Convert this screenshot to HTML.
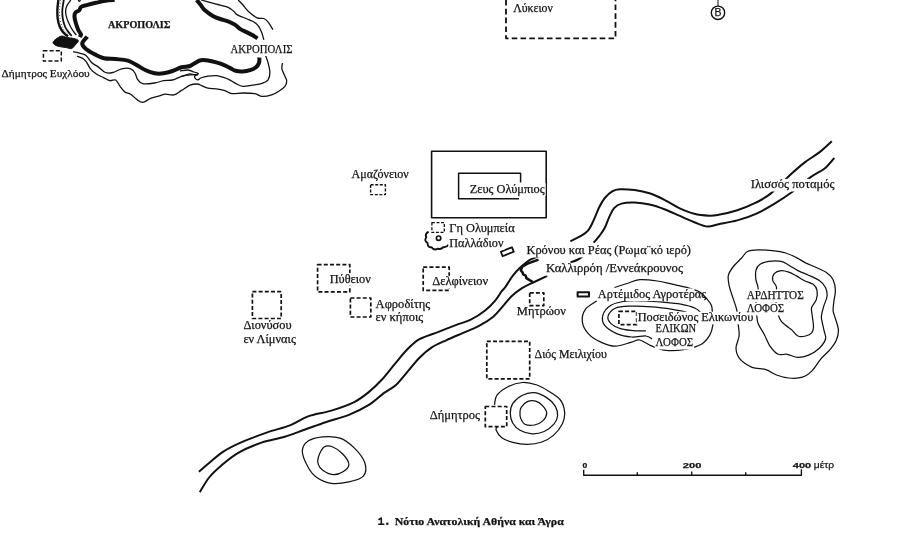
<!DOCTYPE html>
<html><head><meta charset="utf-8"><title>Map</title>
<style>
html,body{margin:0;padding:0;background:#fff;}
body{width:916px;height:536px;overflow:hidden;font-family:"Liberation Serif",serif;}
svg{display:block;position:absolute;left:0;top:0;}
text{fill:#151515;stroke:#151515;stroke-width:0.25px;}
path,rect,circle{stroke-linecap:butt;stroke-linejoin:round;}
</style></head>
<body>
<svg width="916" height="536" viewBox="0 0 916 536">
<rect x="0" y="0" width="916" height="536" fill="#fff" stroke="none"/>
<path d="M114.6 0.0C113.0 0.1 108.4 0.3 105.3 0.8C102.2 1.3 99.0 2.1 95.9 2.8C92.8 3.5 89.1 4.4 86.6 5.1C84.1 5.8 82.2 6.1 81.0 7.0C79.8 7.9 80.1 9.4 79.2 10.3C78.3 11.2 76.2 11.5 75.4 12.6C74.6 13.7 74.4 15.0 74.5 16.8C74.6 18.6 75.3 21.1 75.9 23.3C76.5 25.5 77.4 27.9 78.2 29.8C79.0 31.7 80.8 33.3 81.0 34.5C81.2 35.7 79.8 36.6 79.6 37.0" fill="none" stroke="#111" stroke-width="4.0" />
<path d="M87.2 36.6C86.4 37.8 82.4 41.5 82.2 43.6C82.0 45.7 83.9 47.2 86.0 49.0C88.1 50.8 91.9 52.9 94.9 54.4C97.9 55.9 100.4 57.4 103.9 58.2C107.4 59.0 111.8 58.7 115.8 59.1C119.8 59.5 124.3 59.6 127.8 60.6C131.3 61.6 133.7 63.5 136.7 65.1C139.7 66.7 142.7 68.9 145.7 70.3C148.7 71.7 151.6 72.8 154.6 73.3C157.6 73.8 160.6 73.7 163.6 73.3C166.6 72.9 169.5 72.0 172.5 71.0C175.5 70.0 178.6 68.1 181.5 67.3C184.4 66.5 187.6 66.8 190.0 66.0C192.4 65.2 194.2 63.4 196.0 62.4C197.8 61.4 198.8 60.5 200.8 60.2C202.8 59.9 205.4 60.0 208.0 60.4C210.6 60.8 213.6 61.6 216.4 62.4C219.2 63.2 222.4 64.4 224.8 65.4C227.2 66.4 229.0 67.5 230.8 68.4C232.6 69.3 233.6 70.3 235.6 70.8C237.6 71.3 240.4 71.5 242.8 71.4C245.2 71.3 247.8 70.9 250.0 70.2C252.2 69.5 254.5 68.4 256.0 67.2C257.5 66.0 258.4 64.6 259.0 63.0C259.6 61.4 259.3 58.4 259.4 57.5" fill="none" stroke="#111" stroke-width="4.0" />
<path d="M196.7 0.0C197.4 0.9 199.9 3.9 201.2 5.6C202.5 7.3 202.7 8.4 204.6 10.1C206.5 11.8 209.8 14.2 212.4 15.7C215.0 17.2 217.6 18.1 220.2 19.0C222.8 19.9 225.7 20.4 228.1 21.3C230.5 22.2 232.8 23.3 234.8 24.6C236.9 25.9 238.5 27.9 240.4 29.1C242.3 30.3 243.9 30.9 246.0 31.9C248.1 32.9 250.8 34.2 252.7 35.3C254.6 36.4 256.7 37.9 257.5 38.4" fill="none" stroke="#111" stroke-width="4.0" />
<path d="M53.0 42.4C53.1 41.4 54.5 40.2 55.9 39.2C57.3 38.2 59.5 36.4 61.4 36.1C63.2 35.8 65.1 37.1 67.0 37.5C68.9 37.9 70.9 37.9 72.6 38.2C74.3 38.6 76.4 39.1 77.3 39.6C78.2 40.1 78.5 40.6 78.2 41.5C77.9 42.4 76.5 43.6 75.4 44.8C74.3 46.0 73.2 48.0 71.7 48.5C70.2 49.0 68.1 47.9 66.1 47.6C64.1 47.3 61.4 47.0 59.6 46.6C57.8 46.2 56.5 45.9 55.4 45.2C54.3 44.5 52.9 43.4 53.0 42.4Z" fill="#111" stroke="#111" stroke-width="1" />
<path d="M58.4 0.0C58.2 1.6 57.5 6.2 57.4 9.3C57.3 12.4 57.3 15.7 57.7 18.6C58.1 21.6 58.9 24.7 59.9 27.0C60.9 29.3 62.1 31.0 63.5 32.6C64.8 34.2 67.2 35.8 68.0 36.4" fill="none" stroke="#111" stroke-width="2.4" />
<path d="M63.8 0.0C63.6 1.6 62.6 6.2 62.4 9.3C62.2 12.4 62.3 15.7 62.8 18.6C63.3 21.6 64.2 24.7 65.2 27.0C66.2 29.3 67.8 31.1 68.9 32.6C70.0 34.1 71.2 35.4 71.7 35.9" fill="none" stroke="#111" stroke-width="1.8" />
<path d="M70.8 0.0C70.2 0.9 67.9 3.6 67.0 5.6C66.1 7.6 65.6 9.9 65.6 12.1C65.6 14.3 66.3 16.4 67.0 18.6C67.7 20.8 68.7 23.0 69.8 25.2C70.9 27.4 72.5 30.1 73.6 31.7C74.7 33.3 75.9 34.5 76.4 35.0" fill="none" stroke="#111" stroke-width="1.3" />
<path d="M78.2 0.0C78.4 0.2 78.8 1.4 79.2 1.4C79.6 1.4 80.4 0.2 80.6 0.0" fill="none" stroke="#111" stroke-width="1.2" />
<path d="M60.7 0.0C60.5 1.6 59.7 6.2 59.6 9.3C59.5 12.4 59.5 15.7 60.0 18.6C60.5 21.6 61.4 24.7 62.4 27.0C63.4 29.3 64.9 31.1 66.1 32.6C67.3 34.1 68.9 35.4 69.5 36.0" fill="none" stroke="#333" stroke-width="1" stroke-dasharray="0.8 2.2"/>
<path d="M73.1 51.6C74.2 51.9 77.4 52.6 79.6 53.2C81.8 53.8 84.0 53.8 86.0 55.4C88.0 57.0 89.9 60.9 91.9 62.8C93.9 64.7 95.7 65.0 97.9 66.6C100.2 68.2 102.9 71.5 105.4 72.5C107.9 73.5 110.1 73.1 112.8 72.5C115.5 71.9 118.8 69.4 121.8 68.8C124.8 68.2 128.5 68.0 130.7 68.8C132.9 69.5 134.1 71.5 135.2 73.3C136.3 75.0 136.2 77.6 137.5 79.3C138.8 81.0 139.8 83.1 142.7 83.7C145.5 84.3 151.1 83.5 154.6 83.0C158.1 82.5 160.6 81.2 163.6 80.7C166.6 80.2 169.5 80.7 172.5 80.0C175.5 79.3 178.5 77.2 181.5 76.3C184.5 75.4 187.7 75.0 190.4 74.8C193.1 74.5 196.7 74.8 197.9 74.8" fill="none" stroke="#111" stroke-width="1.3" />
<path d="M77.0 56.1C77.9 56.4 80.7 57.2 82.2 58.1C83.7 59.0 84.6 59.5 86.0 61.3C87.4 63.1 88.7 66.7 90.4 68.8C92.1 70.9 94.2 72.5 96.4 74.0C98.7 75.5 101.7 76.7 103.9 77.8C106.2 78.9 107.9 80.3 109.9 80.7C111.9 81.1 114.1 79.0 115.8 80.0C117.5 81.0 118.8 84.7 120.3 86.7C121.8 88.7 123.1 90.7 124.8 91.9C126.5 93.2 128.7 93.0 130.7 94.2C132.7 95.5 134.7 98.0 136.7 99.4C138.7 100.8 140.5 102.5 142.7 102.4C144.9 102.3 147.6 99.7 150.1 98.7C152.6 97.7 155.1 97.2 157.6 96.4C160.1 95.7 162.4 94.5 165.1 94.2C167.8 94.0 171.3 95.5 174.0 94.9C176.7 94.3 178.8 92.0 181.5 90.4C184.2 88.8 187.4 86.3 190.0 85.2C192.6 84.1 195.2 83.9 197.2 84.0C199.2 84.1 200.2 85.1 202.0 85.8C203.8 86.5 205.6 87.7 208.0 88.2C210.4 88.7 213.6 88.4 216.4 88.8C219.2 89.2 222.2 89.8 224.8 90.6C227.4 91.4 229.0 93.2 232.0 93.6C235.0 94.0 239.0 93.0 242.8 93.0C246.6 93.0 251.6 93.0 254.8 93.6C258.0 94.2 259.3 96.2 262.1 96.4C264.9 96.6 268.9 95.7 271.7 94.8C274.5 93.9 276.7 92.6 278.9 91.2C281.1 89.8 283.6 88.1 284.9 86.4C286.2 84.7 286.7 82.7 286.7 81.0C286.7 79.3 285.7 78.2 284.9 76.2C284.1 74.2 282.3 71.2 281.9 69.0C281.5 66.8 282.4 64.0 282.5 63.0" fill="none" stroke="#111" stroke-width="1.3" />
<path d="M180.0 70.8C181.4 70.7 185.9 69.8 188.2 70.0C190.5 70.2 192.3 71.4 194.0 72.0C195.7 72.6 198.3 72.8 198.4 73.5C198.5 74.2 195.3 75.2 194.8 76.0C194.3 76.8 194.9 78.0 195.4 78.6C195.9 79.2 197.1 79.9 198.0 79.8C198.9 79.7 199.1 78.6 200.8 78.0C202.5 77.4 205.4 76.6 208.0 76.2C210.6 75.8 213.8 75.4 216.4 75.6C219.0 75.8 221.4 76.7 223.6 77.4C225.8 78.1 227.6 78.8 229.6 79.8C231.6 80.8 233.4 82.3 235.6 83.4C237.8 84.5 240.0 86.1 242.8 86.4C245.6 86.7 249.2 85.7 252.4 85.2C255.6 84.7 259.5 84.3 262.1 83.4C264.7 82.5 266.8 81.6 268.1 79.8C269.4 78.0 269.9 75.4 269.9 72.6C269.9 69.8 268.8 65.8 268.1 63.0C267.4 60.2 266.1 57.0 265.7 55.8" fill="none" stroke="#111" stroke-width="1.3" />
<path d="M181.5 76.3C182.2 76.1 184.6 75.4 186.0 75.0C187.4 74.6 188.5 73.8 190.0 73.8C191.5 73.8 194.0 74.8 194.8 75.0" fill="none" stroke="#111" stroke-width="1.3" />
<path d="M201.2 0.0C202.5 0.4 206.2 1.5 209.0 2.2C211.8 3.0 214.8 3.6 218.0 4.5C221.2 5.3 225.5 6.2 228.1 7.3C230.7 8.4 232.2 10.0 233.7 11.2C235.2 12.4 234.9 13.4 237.0 14.6C239.1 15.8 243.4 17.4 246.0 18.5C248.6 19.6 250.6 20.1 252.7 21.3C254.8 22.5 256.8 23.9 258.3 25.8C259.8 27.7 260.8 30.2 261.7 32.5C262.6 34.8 263.5 38.6 263.9 39.8" fill="none" stroke="#111" stroke-width="1.3" />
<path d="M238.2 0.0C238.9 0.8 240.9 2.6 242.6 4.5C244.3 6.4 245.8 9.0 248.2 11.2C250.6 13.4 254.6 16.7 257.2 17.9C259.8 19.1 262.0 17.8 263.9 18.5C265.8 19.2 266.9 20.5 268.4 22.4C269.9 24.3 272.1 28.5 272.9 29.7" fill="none" stroke="#111" stroke-width="1.3" />
<rect x="43.4" y="50.7" width="17.9" height="10.4" fill="none" stroke="#111" stroke-width="1.5" stroke-dasharray="4 2.2"/>
<path d="M506 0V38.3H615.5V0" fill="none" stroke="#111" stroke-width="1.8" stroke-dasharray="5.6 3.2"/>
<circle cx="718" cy="12.8" r="6.7" fill="#fff" stroke="#111" stroke-width="1.4"/>
<path d="M718 0V6" stroke="#111" stroke-width="1"/>
<rect x="431.6" y="151.2" width="114.6" height="66.5" fill="none" stroke="#111" stroke-width="1.6"/>
<path d="M520.6 182.4V173.2H458.6V198.8H519" fill="none" stroke="#111" stroke-width="1.5"/>
<rect x="370.6" y="184.8" width="14.8" height="9.8" fill="none" stroke="#111" stroke-width="1.4" stroke-dasharray="3 1.6"/>
<rect x="431.9" y="222.6" width="12.4" height="9.8" fill="none" stroke="#111" stroke-width="1.3" stroke-dasharray="3 1.6"/>
<path d="M428.6 231.6 Q424.5 234 426.3 237.5 Q423.8 240.5 427.5 243 Q427.5 247.5 431.5 247.2 Q434 250.8 437.8 248.6 Q441 250 443.2 247.2 Q446.5 247.5 448.8 244.6" fill="none" stroke="#111" stroke-width="1.9"/>
<circle cx="438.6" cy="238.2" r="2.2" fill="none" stroke="#111" stroke-width="1.7"/>
<rect x="-6" y="-2.4" width="12" height="4.8" fill="#fff" stroke="#111" stroke-width="1.8" transform="translate(507.3 251.7) rotate(-22)"/>
<rect x="577.6" y="292.2" width="11.4" height="4.4" fill="#fff" stroke="#111" stroke-width="2"/>
<rect x="317.6" y="264.6" width="32.2" height="27.2" fill="none" stroke="#111" stroke-width="1.7" stroke-dasharray="4 2.2"/>
<rect x="252.4" y="291.7" width="28.8" height="26.8" fill="none" stroke="#111" stroke-width="1.7" stroke-dasharray="4 2.2"/>
<rect x="350.4" y="298.0" width="20.4" height="19.0" fill="none" stroke="#111" stroke-width="1.7" stroke-dasharray="4 2.2"/>
<rect x="423.2" y="267.2" width="26.0" height="23.2" fill="none" stroke="#111" stroke-width="1.7" stroke-dasharray="4 2.2"/>
<rect x="529.7" y="292.8" width="14.1" height="12.8" fill="none" stroke="#111" stroke-width="1.7" stroke-dasharray="4 2.2"/>
<rect x="486.8" y="341.3" width="42.9" height="37.6" fill="none" stroke="#111" stroke-width="1.7" stroke-dasharray="4 2.2"/>
<rect x="485.3" y="406.5" width="21.4" height="20.2" fill="none" stroke="#111" stroke-width="1.7" stroke-dasharray="4 2.2"/>
<rect x="618.9" y="311.3" width="17.8" height="13.4" fill="none" stroke="#111" stroke-width="1.7" stroke-dasharray="4 2.2"/>
<path d="M831.8 141.2C829.7 143.1 823.9 148.8 819.3 152.4C814.7 156.0 809.0 159.0 804.4 162.6C799.8 166.2 797.0 168.7 791.4 173.8C785.8 178.9 776.8 188.6 770.9 193.4C765.0 198.2 761.5 199.9 755.9 202.7C750.3 205.5 743.5 208.2 737.3 210.2C731.1 212.2 723.3 213.9 718.6 214.8C713.9 215.7 713.2 215.9 709.2 215.7C705.2 215.5 699.3 215.1 694.3 213.8C689.3 212.6 684.3 210.5 679.3 208.2C674.3 205.9 669.4 202.3 664.4 199.8C659.4 197.3 654.5 194.9 649.5 193.3C644.5 191.7 639.6 190.8 634.6 190.1C629.6 189.4 623.4 189.0 619.7 189.2C616.0 189.4 614.7 189.9 612.2 191.4C609.7 192.9 607.0 195.3 604.8 198.0C602.6 200.7 601.1 203.6 599.2 207.3C597.3 211.0 595.5 216.5 593.6 220.4C591.7 224.3 590.2 228.0 588.0 230.6C585.8 233.2 583.5 234.4 580.5 236.2C577.5 238.0 572.0 240.4 570.3 241.2" fill="none" stroke="#111" stroke-width="2.0" />
<path d="M540.5 255.6C538.7 256.4 532.9 258.1 529.5 260.1C526.1 262.1 523.0 265.0 520.2 267.6C517.4 270.2 515.2 272.6 512.7 275.9C510.2 279.1 507.2 284.5 505.3 287.1C503.4 289.7 503.1 289.3 501.5 291.5C499.9 293.7 498.1 297.1 495.4 300.3C492.7 303.5 489.2 307.3 485.1 310.5C481.0 313.7 475.6 317.3 470.8 319.7C466.0 322.1 461.9 322.8 456.4 324.9C450.9 327.0 444.0 329.7 437.9 332.1C431.8 334.5 424.6 336.3 419.5 339.2C414.4 342.1 411.3 345.4 407.2 349.5C403.1 353.6 399.2 358.7 394.9 363.8C390.6 368.9 385.8 375.4 381.5 380.0C377.2 384.6 373.8 388.0 369.3 391.6C364.8 395.2 361.0 398.6 354.7 401.8C348.4 405.0 339.2 408.2 331.4 410.6C323.6 413.0 314.9 414.0 308.1 416.4C301.3 418.8 297.4 422.4 290.6 425.1C283.8 427.8 275.1 429.7 267.3 432.4C259.6 435.1 251.4 438.0 244.1 441.1C236.8 444.2 229.5 447.7 223.7 451.3C217.9 454.9 213.2 459.6 209.1 463.0C205.0 466.4 200.6 470.2 198.9 471.7" fill="none" stroke="#111" stroke-width="2.0" />
<path d="M834.3 158.0C832.8 159.7 829.0 164.9 825.0 168.2C821.0 171.5 815.6 173.5 810.0 177.6C804.4 181.7 797.3 188.2 791.4 192.5C785.5 196.8 780.5 200.1 774.6 203.7C768.7 207.3 762.1 211.1 755.9 213.9C749.7 216.7 743.5 218.7 737.3 220.4C731.1 222.1 723.6 223.2 718.6 224.2C713.6 225.2 711.5 226.9 707.5 226.6C703.5 226.3 699.0 224.0 694.3 222.2C689.6 220.4 684.3 217.9 679.3 215.7C674.3 213.5 669.4 211.1 664.4 209.2C659.4 207.3 654.5 205.6 649.5 204.5C644.5 203.4 639.3 202.8 634.6 202.6C629.9 202.4 624.9 202.7 621.5 203.6C618.1 204.5 616.1 206.0 614.1 208.2C612.1 210.4 611.0 213.3 609.4 216.6C607.8 219.9 606.5 224.5 604.8 227.8C603.1 231.1 601.1 233.7 599.2 236.2C597.3 238.7 594.5 241.6 593.6 242.7" fill="none" stroke="#111" stroke-width="2.0" />
<path d="M584.2 255.4C583.2 256.1 580.3 258.3 578.0 259.5C575.7 260.7 571.8 262.0 570.5 262.5" fill="none" stroke="#111" stroke-width="2.0" />
<path d="M547.2 275.9C544.9 277.0 537.4 280.5 533.2 282.5C529.0 284.5 525.6 285.9 522.0 288.1C518.4 290.4 514.9 293.1 511.8 296.0C508.7 298.9 506.7 301.9 503.6 305.4C500.5 308.8 497.4 313.3 493.3 316.7C489.2 320.1 484.1 323.2 479.0 325.9C473.9 328.6 468.1 330.7 462.6 333.1C457.1 335.5 451.3 337.9 446.2 340.3C441.1 342.7 436.2 344.5 431.8 347.4C427.4 350.3 423.6 353.6 419.5 357.7C415.4 361.8 411.1 367.6 407.2 372.1C403.3 376.7 399.9 381.5 396.0 385.0C392.1 388.5 388.2 389.8 383.8 393.1C379.4 396.4 375.1 401.1 369.3 404.7C363.5 408.3 356.2 412.0 348.9 414.9C341.6 417.8 332.9 419.8 325.6 422.2C318.3 424.6 312.0 427.1 305.2 429.5C298.4 431.9 292.1 434.6 284.8 436.8C277.5 439.0 269.3 439.9 261.5 442.6C253.7 445.3 245.0 448.9 238.2 452.8C231.4 456.7 225.7 461.8 220.8 465.9C216.0 470.0 212.6 473.1 209.1 477.5C205.6 481.9 201.4 489.7 199.8 492.1" fill="none" stroke="#111" stroke-width="2.0" />
<path d="M538.5 259.6L527.6 263.6L522.3 266.5L520.8 270.4L522.6 272.3L523.2 274.4L525.6 275.6L526.4 278.2L529.6 280.2L532.6 281.8" fill="none" stroke="#111" stroke-width="2.6" />
<path d="M497.0 426.7C496.9 427.3 495.4 428.4 496.2 430.3C497.0 432.2 499.1 435.8 501.8 437.8C504.6 439.8 508.5 441.3 512.7 442.4C517.0 443.5 522.4 444.5 527.3 444.4C532.1 444.3 537.4 443.5 541.8 442.0C546.1 440.5 550.0 438.4 553.4 435.4C556.8 432.4 560.5 427.7 562.4 423.8C564.3 419.9 564.9 416.1 564.6 412.1C564.3 408.1 563.0 403.4 560.4 400.0C557.8 396.6 553.0 394.0 549.1 391.5C545.2 389.0 541.5 386.5 537.0 385.0C532.5 383.5 527.2 382.2 522.4 382.5C517.5 382.8 512.1 384.6 507.9 386.7C503.7 388.8 499.2 392.2 497.0 395.2C494.8 398.2 494.9 403.2 494.5 404.8" fill="none" stroke="#111" stroke-width="1.25" />
<path d="M512.7 403.6C514.7 400.6 518.8 397.0 522.4 395.2C526.0 393.4 530.5 392.3 534.5 392.7C538.5 393.1 543.2 395.4 546.7 397.6C550.2 399.8 553.4 403.1 555.2 406.1C557.0 409.1 557.8 412.8 557.6 415.8C557.4 418.8 556.1 421.6 553.9 424.2C551.7 426.8 547.8 429.9 544.2 431.5C540.6 433.1 536.1 434.1 532.1 433.9C528.1 433.7 523.2 432.1 520.0 430.3C516.8 428.5 514.3 425.8 512.7 423.0C511.1 420.2 510.3 416.5 510.3 413.3C510.3 410.1 510.7 406.6 512.7 403.6Z" fill="none" stroke="#111" stroke-width="1.25" />
<path d="M521.2 407.3C522.4 405.6 524.9 402.7 527.3 401.7C529.7 400.7 533.2 400.5 535.8 401.2C538.4 401.9 541.2 404.1 543.0 406.1C544.8 408.1 546.7 410.9 546.7 413.3C546.7 415.7 545.0 418.7 543.0 420.6C541.0 422.6 537.5 424.4 534.5 425.0C531.5 425.6 527.1 425.3 524.8 424.2C522.5 423.1 521.5 420.2 520.7 418.2C519.9 416.2 519.9 413.9 520.0 412.1C520.1 410.3 520.0 409.0 521.2 407.3Z" fill="none" stroke="#111" stroke-width="1.25" />
<path d="M302.3 451.3C302.3 446.9 304.7 443.5 308.1 441.1C311.5 438.7 317.4 437.3 322.7 436.8C328.0 436.3 334.8 436.3 340.1 438.2C345.4 440.1 350.6 444.3 354.7 448.4C358.8 452.5 363.4 458.4 364.9 463.0C366.3 467.6 366.1 473.0 363.4 476.1C360.7 479.2 354.2 480.7 348.9 481.9C343.6 483.1 336.8 484.1 331.4 483.4C326.0 482.7 320.7 480.2 316.8 477.5C312.9 474.8 310.5 471.7 308.1 467.3C305.7 462.9 302.3 455.7 302.3 451.3Z" fill="none" stroke="#111" stroke-width="1.25" />
<path d="M318.3 457.2C319.3 454.3 321.7 448.7 324.1 447.0C326.5 445.3 329.8 445.8 332.9 447.0C336.0 448.2 340.3 451.3 343.0 454.2C345.7 457.1 348.9 461.5 348.9 464.4C348.9 467.3 345.7 470.0 343.0 471.7C340.3 473.4 336.3 474.8 332.9 474.6C329.5 474.4 325.1 472.0 322.7 470.3C320.3 468.6 319.0 466.6 318.3 464.4C317.6 462.2 317.3 460.1 318.3 457.2Z" fill="none" stroke="#111" stroke-width="1.25" />
<path d="M596.7 301.0C594.8 302.4 587.8 305.9 585.4 309.3C583.0 312.7 581.8 317.5 582.3 321.6C582.8 325.7 585.4 330.5 588.5 333.9C591.6 337.3 596.3 340.1 600.8 342.1C605.2 344.2 610.1 346.2 615.2 346.2C620.3 346.2 627.5 343.1 631.6 342.1C635.7 341.1 636.4 339.3 639.8 340.0C643.2 340.7 647.6 344.5 652.1 346.2C656.6 347.9 661.0 349.8 666.5 350.3C672.0 350.8 679.1 350.3 684.9 349.3C690.7 348.3 697.3 346.5 701.4 344.2C705.5 341.9 707.7 338.4 709.6 335.3C711.5 332.2 712.3 328.9 712.8 325.5C713.3 322.1 712.7 318.3 712.5 315.0C712.3 311.7 712.5 308.3 711.5 305.5C710.5 302.7 708.2 300.3 706.2 298.0C704.2 295.7 702.4 293.5 699.3 291.8C696.2 290.1 692.0 289.0 687.5 287.7C683.0 286.4 677.2 285.3 672.2 284.2C667.2 283.1 662.7 281.8 657.3 281.0C651.9 280.2 644.8 279.2 639.8 279.6C634.8 280.0 631.2 282.2 627.0 283.5C622.8 284.8 616.6 286.8 614.5 287.5" fill="none" stroke="#111" stroke-width="1.25" />
<path d="M701.4 313.4C700.4 312.5 698.6 309.8 695.2 308.2C691.8 306.6 686.3 305.1 680.8 304.1C675.3 303.1 668.2 302.6 662.4 302.1C656.6 301.6 651.7 301.2 645.9 301.0C640.1 300.8 633.3 300.3 627.5 301.0C621.7 301.7 615.1 302.8 611.0 305.2C606.9 307.6 603.8 312.0 602.8 315.4C601.8 318.8 602.5 322.6 604.9 325.7C607.3 328.8 612.8 332.0 617.2 333.9C621.7 335.8 626.8 336.6 631.6 337.0C636.4 337.4 642.5 335.7 645.9 336.0C649.3 336.3 651.1 338.5 652.1 339.0" fill="none" stroke="#111" stroke-width="1.25" />
<path d="M687.0 312.3C684.6 311.8 678.4 310.2 672.6 309.3C666.8 308.4 659.3 307.3 652.1 306.8C644.9 306.3 635.6 306.0 629.5 306.2C623.4 306.4 618.8 306.5 615.2 308.2C611.6 309.9 608.7 313.8 608.0 316.4C607.3 319.0 608.8 321.5 611.0 323.6C613.2 325.7 617.2 327.6 621.3 328.8C625.4 330.0 631.6 330.5 635.7 330.8C639.8 331.1 644.2 330.8 645.9 330.8" fill="none" stroke="#111" stroke-width="1.25" />
<path d="M747.5 251.5C750.3 250.1 754.1 250.0 758.2 249.9C762.3 249.8 767.4 250.2 772.0 250.7C776.6 251.2 781.6 251.8 785.7 253.0C789.8 254.2 793.1 256.0 796.4 257.6C799.7 259.2 802.3 261.2 805.6 262.9C808.9 264.5 812.7 265.8 816.3 267.5C819.9 269.2 824.2 270.9 827.0 272.9C829.8 274.9 831.7 276.8 833.1 279.7C834.5 282.6 835.3 286.8 835.4 290.4C835.5 294.0 834.3 297.8 833.9 301.1C833.5 304.4 833.0 307.8 833.1 310.3C833.2 312.8 833.7 312.8 834.6 316.1C835.5 319.4 838.1 325.8 838.4 329.9C838.7 334.0 837.6 337.3 836.2 340.6C834.8 343.9 832.5 346.6 830.0 349.7C827.5 352.8 823.9 355.3 820.9 358.9C817.9 362.5 814.8 368.1 811.7 371.1C808.6 374.2 806.3 376.1 802.5 377.2C798.7 378.3 793.1 378.4 788.8 378.0C784.5 377.6 780.3 376.4 776.5 375.0C772.7 373.6 770.0 370.9 765.9 369.6C761.8 368.3 756.4 369.1 752.1 367.3C747.8 365.5 742.6 362.1 739.9 358.9C737.2 355.7 736.1 352.0 736.0 348.2C735.9 344.4 738.7 339.8 739.1 336.0C739.5 332.2 738.7 329.6 738.3 325.3C737.9 321.0 737.7 314.8 736.8 310.3C735.9 305.8 734.3 302.2 733.0 298.1C731.7 294.0 730.0 289.7 729.2 285.9C728.4 282.1 727.6 278.5 728.4 275.2C729.2 271.9 731.6 268.8 733.8 266.0C736.0 263.2 739.1 260.7 741.4 258.3C743.7 255.9 744.7 252.9 747.5 251.5Z" fill="none" stroke="#111" stroke-width="1.25" />
<path d="M756.7 314.6C756.3 311.0 755.8 306.3 756.0 302.0C756.2 297.7 758.2 292.6 758.2 288.9C758.2 285.2 756.3 282.8 755.9 279.7C755.5 276.6 755.3 273.1 755.9 270.6C756.5 268.1 757.5 266.0 759.7 264.5C761.9 263.0 765.3 261.9 768.9 261.4C772.5 260.9 777.8 260.8 781.1 261.4C784.4 262.0 786.0 263.7 788.8 265.2C791.6 266.7 794.6 268.9 797.9 270.6C801.2 272.3 805.0 273.6 808.6 275.2C812.2 276.8 816.5 278.5 819.3 280.5C822.1 282.5 824.2 284.7 825.5 287.4C826.8 290.1 827.3 293.4 827.0 296.5C826.7 299.6 824.8 302.6 823.9 305.7C823.0 308.8 822.0 312.6 821.6 314.9C821.2 317.1 821.2 316.7 821.6 319.2C822.0 321.7 823.2 326.6 823.9 329.9C824.5 333.2 826.3 335.9 825.5 339.0C824.7 342.1 822.1 345.5 819.3 348.2C816.5 350.9 812.2 353.6 808.6 355.1C805.0 356.6 801.5 357.5 797.9 357.4C794.3 357.3 790.5 354.8 787.2 354.3C783.9 353.8 780.9 355.6 778.1 354.3C775.3 353.0 772.7 350.0 770.4 346.7C768.1 343.4 766.3 338.3 764.3 334.5C762.3 330.7 759.5 327.1 758.2 323.8C756.9 320.5 757.1 318.2 756.7 314.6Z" fill="none" stroke="#111" stroke-width="1.25" />
<path d="M779.6 318.4C778.0 314.5 776.5 307.2 776.0 302.0C775.5 296.8 777.0 291.0 776.5 287.4C776.0 283.8 773.1 282.8 772.7 280.5C772.3 278.2 772.9 275.2 774.3 273.6C775.7 272.0 778.7 270.9 781.1 270.6C783.5 270.4 786.2 271.2 788.8 272.1C791.3 273.0 793.8 274.5 796.4 275.9C799.0 277.3 801.3 279.1 804.1 280.5C806.9 281.9 811.1 282.7 813.2 284.3C815.4 285.9 816.5 287.8 817.0 290.4C817.5 292.9 817.2 296.8 816.3 299.6C815.4 302.4 812.5 305.1 811.7 307.2C810.9 309.3 811.6 310.3 811.7 312.0C811.8 313.7 812.2 315.1 812.5 317.6C812.8 320.1 813.6 324.2 813.5 326.8C813.4 329.4 813.0 331.4 811.7 332.9C810.4 334.4 807.9 335.5 805.6 336.0C803.3 336.5 800.2 337.0 797.9 336.0C795.6 335.0 793.8 331.7 791.8 329.9C789.8 328.1 787.7 327.2 785.7 325.3C783.7 323.4 781.2 322.3 779.6 318.4Z" fill="none" stroke="#111" stroke-width="1.25" />
<path d="M583.7 469.7V475.2H801.4V469.2M637.3 472.2V475.2M691.7 471.6V475.2M745.7 472.2V475.2" fill="none" stroke="#111" stroke-width="1.35"/>
<g style="will-change:transform;transform:translateZ(0)">
<text x="718" y="16.3" font-size="10.5" text-anchor="middle" font-family="'Liberation Sans', sans-serif">B</text>
<text x="582.4" y="467.6" font-size="7" font-weight="bold" textLength="4.8" lengthAdjust="spacingAndGlyphs" font-family="'Liberation Sans', serif">0</text>
<text x="682.8" y="468.1" font-size="7.6" font-weight="bold" textLength="18.6" lengthAdjust="spacingAndGlyphs" font-family="'Liberation Sans', serif">200</text>
<text x="792.8" y="468.1" font-size="7.6" font-weight="bold" textLength="18.3" lengthAdjust="spacingAndGlyphs" font-family="'Liberation Sans', serif">400</text>
<text x="813.8" y="467.7" font-size="9.6"  textLength="20.4" lengthAdjust="spacingAndGlyphs" font-family="'Liberation Sans', serif">μέτρ</text>
<text x="108.0" y="27.5" font-size="9.7" font-weight="bold" textLength="62.3" lengthAdjust="spacingAndGlyphs" font-family="'Liberation Serif', serif">ΑΚΡΟΠΟΛΙΣ</text>
<rect x="229.6" y="43.4" width="63.9" height="12.6" fill="#fff"/>
<text x="230.6" y="52.8" font-size="12"  textLength="61.9" lengthAdjust="spacingAndGlyphs" font-family="'Liberation Serif', serif">ΑΚΡΟΠΟΛΙΣ</text>
<text x="1.6" y="76.9" font-size="10.8"  textLength="88.1" lengthAdjust="spacingAndGlyphs" font-family="'Liberation Serif', serif">Δήμητρος Ευχλόου</text>
<text x="513.2" y="11.7" font-size="11.5"  textLength="39.6" lengthAdjust="spacingAndGlyphs" font-family="'Liberation Serif', serif">Λύκειον</text>
<text x="351.5" y="177.8" font-size="11.7"  textLength="57.2" lengthAdjust="spacingAndGlyphs" font-family="'Liberation Serif', serif">Αμαζόνειον</text>
<rect x="468.7" y="183.2" width="76.9" height="12.6" fill="#fff"/>
<text x="469.7" y="192.6" font-size="12"  textLength="74.9" lengthAdjust="spacingAndGlyphs" font-family="'Liberation Serif', serif">Ζευς Ολύμπιος</text>
<text x="449.3" y="232.1" font-size="12"  textLength="65.3" lengthAdjust="spacingAndGlyphs" font-family="'Liberation Serif', serif">Γη Ολυμπεία</text>
<rect x="448.3" y="237.2" width="56.1" height="12.6" fill="#fff"/>
<text x="449.3" y="246.6" font-size="12"  textLength="54.1" lengthAdjust="spacingAndGlyphs" font-family="'Liberation Serif', serif">Παλλάδιον</text>
<rect x="525.5" y="244.9" width="166.5" height="12.6" fill="#fff"/>
<text x="526.5" y="254.3" font-size="12"  textLength="164.5" lengthAdjust="spacingAndGlyphs" font-family="'Liberation Serif', serif">Κρόνου και Ρέας (Ρωμα¨κό ιερό)</text>
<rect x="545.0" y="262.9" width="139.0" height="12.6" fill="#fff"/>
<text x="546.0" y="272.3" font-size="12"  textLength="137.0" lengthAdjust="spacingAndGlyphs" font-family="'Liberation Serif', serif">Καλλιρρόη /Εννεάκρουνος</text>
<rect x="328.7" y="273.1" width="43.1" height="12.6" fill="#fff"/>
<text x="329.7" y="282.5" font-size="11.9"  textLength="41.1" lengthAdjust="spacingAndGlyphs" font-family="'Liberation Serif', serif">Πύθειον</text>
<rect x="431.2" y="275.8" width="58.0" height="12.6" fill="#fff"/>
<text x="432.2" y="285.2" font-size="12"  textLength="56.0" lengthAdjust="spacingAndGlyphs" font-family="'Liberation Serif', serif">Δελφίνειον</text>
<text x="375.6" y="307.7" font-size="12"  textLength="54.6" lengthAdjust="spacingAndGlyphs" font-family="'Liberation Serif', serif">Αφροδίτης</text>
<text x="375.6" y="320.6" font-size="12"  textLength="47.6" lengthAdjust="spacingAndGlyphs" font-family="'Liberation Serif', serif">εν κήποις</text>
<text x="243.4" y="329.4" font-size="12"  textLength="48.2" lengthAdjust="spacingAndGlyphs" font-family="'Liberation Serif', serif">Διονύσου</text>
<text x="243.4" y="342.9" font-size="12"  textLength="52.4" lengthAdjust="spacingAndGlyphs" font-family="'Liberation Serif', serif">εν Λίμναις</text>
<text x="516.8" y="315.3" font-size="12"  textLength="49.1" lengthAdjust="spacingAndGlyphs" font-family="'Liberation Serif', serif">Μητρώον</text>
<rect x="596.8" y="288.4" width="97.7" height="12.6" fill="#fff"/>
<text x="597.8" y="297.8" font-size="12"  textLength="108.5" lengthAdjust="spacingAndGlyphs" font-family="'Liberation Serif', serif">Αρτέμιδος Αγροτέρας</text>
<rect x="636.7" y="311.7" width="117.6" height="12.6" fill="#fff"/>
<text x="637.7" y="321.1" font-size="12"  textLength="115.6" lengthAdjust="spacingAndGlyphs" font-family="'Liberation Serif', serif">Ποσειδώνος Ελικωνίου</text>
<rect x="654.6" y="322.2" width="42.5" height="12.6" fill="#fff"/>
<text x="655.6" y="331.6" font-size="12"  textLength="40.5" lengthAdjust="spacingAndGlyphs" font-family="'Liberation Serif', serif">ΕΛΙΚΩΝ</text>
<rect x="654.6" y="336.9" width="39.5" height="12.6" fill="#fff"/>
<text x="655.6" y="346.3" font-size="12"  textLength="37.5" lengthAdjust="spacingAndGlyphs" font-family="'Liberation Serif', serif">ΛΟΦΟΣ</text>
<rect x="745.7" y="289.4" width="59.1" height="12.6" fill="#fff"/>
<text x="746.7" y="298.8" font-size="12"  textLength="57.1" lengthAdjust="spacingAndGlyphs" font-family="'Liberation Serif', serif">ΑΡΔΗΤΤΟΣ</text>
<rect x="745.7" y="302.8" width="39.5" height="12.6" fill="#fff"/>
<text x="746.7" y="312.2" font-size="12"  textLength="37.5" lengthAdjust="spacingAndGlyphs" font-family="'Liberation Serif', serif">ΛΟΦΟΣ</text>
<text x="534.5" y="358.3" font-size="11.6"  textLength="72.3" lengthAdjust="spacingAndGlyphs" font-family="'Liberation Serif', serif">Διός Μειλιχίου</text>
<text x="429.8" y="419.4" font-size="12"  textLength="50.2" lengthAdjust="spacingAndGlyphs" font-family="'Liberation Serif', serif">Δήμητρος</text>
<rect x="749.7" y="178.9" width="85.9" height="12.6" fill="#fff"/>
<text x="750.7" y="188.3" font-size="12"  textLength="83.9" lengthAdjust="spacingAndGlyphs" font-family="'Liberation Serif', serif">Ιλισσός ποταμός</text>
<path d="M378.4 519.9L381.3 518.0V524.3M378.2 524.2H384.4" fill="none" stroke="#151515" stroke-width="1.6"/>
<rect x="386.2" y="522.6" width="2.2" height="2.3" fill="#151515"/>
<text x="394.8" y="524.9" font-size="10" font-weight="bold" textLength="169.0" lengthAdjust="spacingAndGlyphs" font-family="'Liberation Serif', serif">Νότιο Ανατολική Αθήνα και Άγρα</text>
</g>
</svg>
</body></html>
